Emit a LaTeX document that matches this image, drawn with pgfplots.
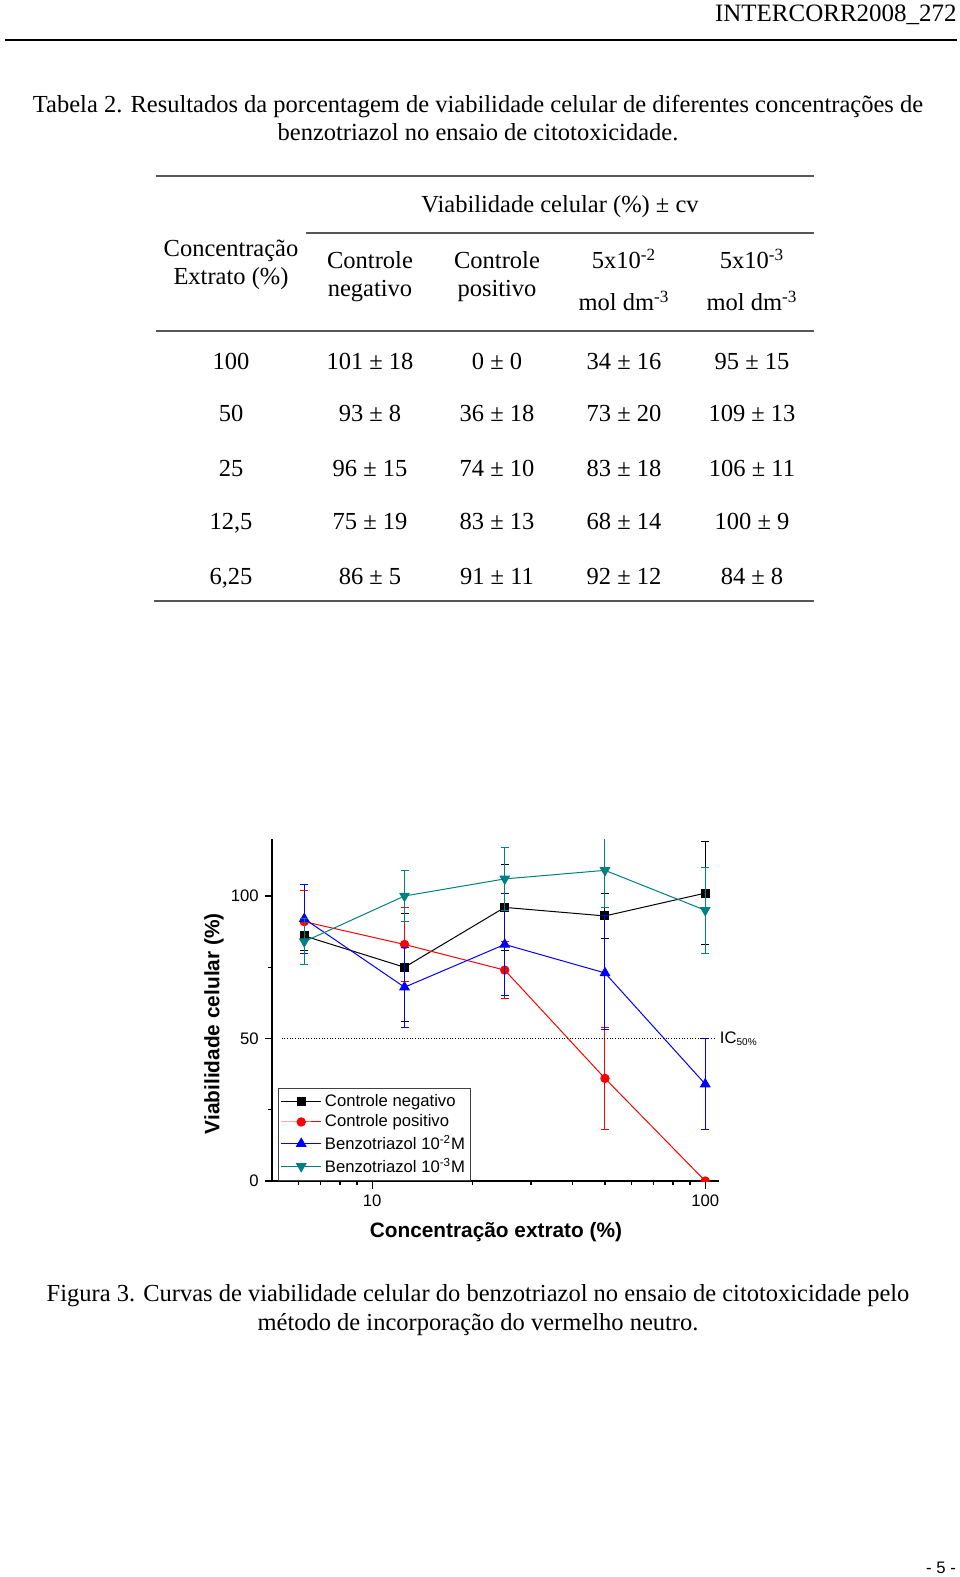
\documentclass[border=0pt]{standalone}
\usepackage{pgfplots}
\pgfplotsset{compat=1.18}
\usepackage{fontspec}
\setmainfont{Liberation Serif}
\newfontfamily\arial{Liberation Sans}
\definecolor{tealc}{RGB}{0,128,128}
\definecolor{rulec}{RGB}{85,85,85}
\newcommand{\bodyfont}{\fontsize{14.7}{17}\selectfont}
\begin{document}
\begin{tikzpicture}
\begin{scope}[x=0.6pt,y=-0.6pt]
\path[use as bounding box] (0,0) rectangle (960,1577);
% header
\node[anchor=base east,inner sep=0pt,font=\fontsize{15}{18}\selectfont] at (957,22) {INTERCORR2008\_272};
\draw[line width=1.2pt] (5,40) -- (957,40);
% table caption
\node[anchor=base,inner sep=0pt,font=\bodyfont] at (478,113) {Tabela 2. Resultados da porcentagem de viabilidade celular de diferentes concentrações de};
\node[anchor=base,inner sep=0pt,font=\bodyfont] at (478,141) {benzotriazol no ensaio de citotoxicidade.};
% table
\draw[rulec,line width=1.1pt] (156,176) -- (814,176);
\node[anchor=base,inner sep=0pt,font=\bodyfont] at (560,213) {Viabilidade celular (\%) ± cv};
\draw[rulec,line width=1.1pt] (306,233) -- (814,233);
\node[anchor=base,inner sep=0pt,font=\bodyfont] at (231,257) {Concentração};
\node[anchor=base,inner sep=0pt,font=\bodyfont] at (231,285) {Extrato (\%)};
\node[anchor=base,inner sep=0pt,font=\bodyfont] at (370,269) {Controle};
\node[anchor=base,inner sep=0pt,font=\bodyfont] at (370,297) {negativo};
\node[anchor=base,inner sep=0pt,font=\bodyfont] at (497,269) {Controle};
\node[anchor=base,inner sep=0pt,font=\bodyfont] at (497,297) {positivo};
\node[anchor=base,inner sep=0pt,font=\bodyfont] at (624,269) {5x10\textsuperscript{-2}};
\node[anchor=base,inner sep=0pt,font=\bodyfont] at (624,311) {mol dm\textsuperscript{-3}};
\node[anchor=base,inner sep=0pt,font=\bodyfont] at (752,269) {5x10\textsuperscript{-3}};
\node[anchor=base,inner sep=0pt,font=\bodyfont] at (752,311) {mol dm\textsuperscript{-3}};
\draw[rulec,line width=1.1pt] (156,331) -- (814,331);
\foreach \yy/\a/\b/\c/\d/\e in {370/100/101 ± 18/0 ± 0/34 ± 16/95 ± 15,
  422/50/93 ± 8/36 ± 18/73 ± 20/109 ± 13,
  476/25/96 ± 15/74 ± 10/83 ± 18/106 ± 11,
  529/{12,5}/75 ± 19/83 ± 13/68 ± 14/100 ± 9,
  584/{6,25}/86 ± 5/91 ± 11/92 ± 12/84 ± 8}{
  \node[anchor=base,inner sep=0pt,font=\bodyfont] at (231,\yy) {\a};
  \node[anchor=base,inner sep=0pt,font=\bodyfont] at (370,\yy) {\b};
  \node[anchor=base,inner sep=0pt,font=\bodyfont] at (497,\yy) {\c};
  \node[anchor=base,inner sep=0pt,font=\bodyfont] at (624,\yy) {\d};
  \node[anchor=base,inner sep=0pt,font=\bodyfont] at (752,\yy) {\e};
}
\draw[rulec,line width=1.1pt] (154,601) -- (814,601);
% figure caption
\node[anchor=base,inner sep=0pt,font=\bodyfont] at (478,1301) {Figura 3. Curvas de viabilidade celular do benzotriazol no ensaio de citotoxicidade pelo};
\node[anchor=base,inner sep=0pt,font=\bodyfont] at (478,1330) {método de incorporação do vermelho neutro.};
\node[anchor=base,inner sep=0pt,font=\arial\fontsize{10}{12}\selectfont] at (941,1573) {- 5 -};
\end{scope}
% chart
\begin{axis}[
  at={(163.2pt,-708.6pt)}, anchor=south west,
  scale only axis, width=268.2pt, height=205.2pt,
  xmode=log, xmin=5, xmax=110, ymin=0, ymax=120,
  axis lines*=left,
  axis line style={line width=0.9pt},
  xtick={10,100}, xticklabels={10,100},
  minor xtick={6,7,8,9,20,30,40,50,60,70,80,90},
  ytick={0,50,100}, minor ytick={25,75},
  tick align=outside,
  major tick length=4.5pt, minor tick length=2.5pt,
  tick style={line width=0.8pt,black},
  /pgf/number format/assume math mode=true,
  ticklabel style={font=\arial\fontsize{10}{12}\selectfont},
  xlabel={Concentração extrato (\%)},
  ylabel={Viabilidade celular (\%)},
  xlabel style={font=\arial\bfseries\fontsize{12.5}{15}\selectfont, at={(rel axis cs:0.501,-0.149)}, anchor=center},
  ylabel style={font=\arial\bfseries\fontsize{12.5}{15}\selectfont, at={(rel axis cs:-0.13,0.46)}, anchor=center},
  clip marker paths=true,
  legend style={at={(rel axis cs:0.013,0)}, anchor=south west, draw=black!75, line width=0.6pt,
    font=\arial\fontsize{10}{12}\selectfont, inner sep=1.5pt, row sep=-0.4pt, cells={anchor=west}},
  legend image code/.code={\draw[mark repeat=2,mark phase=2,#1] plot coordinates {(0cm,0cm) (0.42cm,0cm) (0.84cm,0cm)};},
  error bars/error bar style={line width=0.6pt},
  error bars/error mark options={rotate=90, mark size=2.4pt, line width=0.6pt},
  after end axis/.code={\node[anchor=west, inner sep=0pt, font=\arial\fontsize{10}{12}\selectfont] at (axis cs:110.5,50) {IC\textsubscript{\fontsize{6}{7}\selectfont 50\%}};},
]
\addplot[black, line width=0.6pt, mark=square*, mark size=2.4pt, mark options={solid,fill=black},
  error bars/.cd, y dir=both, y explicit] coordinates {
  (6.25,86) +- (0,5) (12.5,75) +- (0,19) (25,96) +- (0,15) (50,93) +- (0,8) (100,101) +- (0,18)};
\addlegendentry{Controle negativo}
\addplot[red, line width=0.6pt, mark=*, mark size=2.5pt, mark options={solid,fill=red},
  error bars/.cd, y dir=both, y explicit] coordinates {
  (6.25,91) +- (0,11) (12.5,83) +- (0,13) (25,74) +- (0,10) (50,36) +- (0,18) (100,0) +- (0,0)};
\addlegendentry{Controle positivo}
\addplot[blue, line width=0.6pt, mark=triangle*, mark size=3.2pt, mark options={solid,fill=blue},
  error bars/.cd, y dir=both, y explicit] coordinates {
  (6.25,92) +- (0,12) (12.5,68) +- (0,14) (25,83) +- (0,18) (50,73) +- (0,20) (100,34) +- (0,16)};
\addlegendentry{Benzotriazol 10\textsuperscript{-2}M}
\addplot[tealc, line width=0.6pt, mark=triangle*, mark size=3.2pt, mark options={solid,fill=tealc,rotate=180},
  error bars/.cd, y dir=both, y explicit] coordinates {
  (6.25,84) +- (0,8) (12.5,100) +- (0,9) (25,106) +- (0,11) (50,109) +- (0,13) (100,95) +- (0,15)};
\addlegendentry{Benzotriazol 10\textsuperscript{-3}M}
\addplot[black, densely dotted, line width=0.6pt, forget plot] coordinates {(5.35,50) (108,50)};
\end{axis}
\end{tikzpicture}
\end{document}
